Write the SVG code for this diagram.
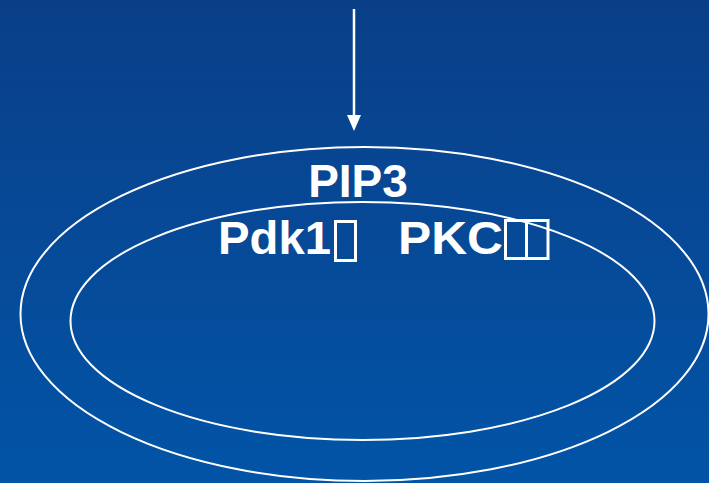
<svg xmlns="http://www.w3.org/2000/svg" width="709" height="483" viewBox="0 0 709 483">
<defs>
<linearGradient id="bg" x1="0" y1="0" x2="0" y2="1">
<stop offset="0" stop-color="#0a3f88"/>
<stop offset="1" stop-color="#0254a7"/>
</linearGradient>
<style>
.mem{fill:none;stroke:#ffffff;stroke-width:2}
.lbl{font-family:"Liberation Sans",Arial,sans-serif;font-weight:bold;fill:#ffffff;font-size:46px}
.tofu{fill:none;stroke:#ffffff;stroke-width:3}
</style>
</defs>
<rect x="0" y="0" width="709" height="483" fill="url(#bg)"/>
<g id="cell-outer"><ellipse class="mem" cx="364.5" cy="314" rx="344" ry="167"/></g>
<g id="cell-inner"><ellipse class="mem" cx="362.5" cy="321" rx="292" ry="119"/></g>
<g id="connectors">
<line x1="354" y1="9" x2="354" y2="116" stroke="#ffffff" stroke-width="2.5"/>
<path d="M347,115 L361,115 L354,131 Z" fill="#ffffff"/>
</g>
<g id="pip3"><text class="lbl" x="358" y="197" text-anchor="middle">PIP3</text></g>
<g id="kinases">
<text class="lbl" x="218" y="254" textLength="113" lengthAdjust="spacingAndGlyphs">Pdk1</text>
<rect class="tofu" x="335.5" y="221.5" width="20" height="39"/>
<text class="lbl" x="398" y="254" textLength="105" lengthAdjust="spacingAndGlyphs">PKC</text>
<rect class="tofu" x="505.5" y="220.5" width="21" height="38"/>
<rect class="tofu" x="526.5" y="220.5" width="21.5" height="38"/>
</g>
</svg>
